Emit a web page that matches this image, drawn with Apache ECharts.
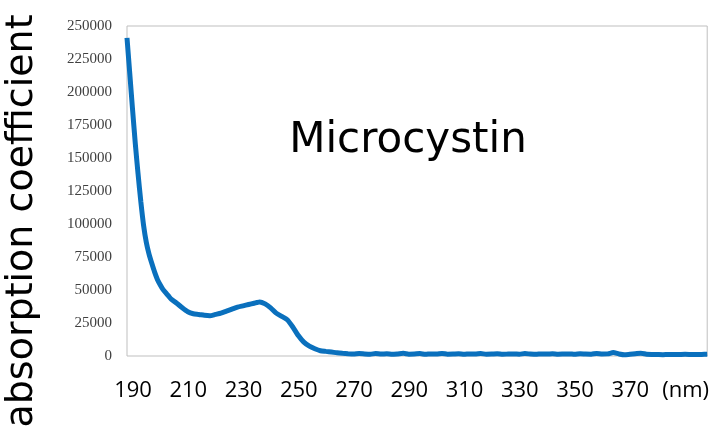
<!DOCTYPE html>
<html>
<head>
<meta charset="utf-8">
<script src="https://cdn.jsdelivr.net/npm/echarts@6/dist/echarts.min.js"></script>
<style>
html,body{margin:0;padding:0;background:#fff;}
#main{width:712px;height:433px;}
</style>
</head>
<body>
<div id="main"></div>
<script>
// wavelength (nm) and absorption coefficient
var wavelength = [190,191,192,193,194,195,196,197,198,199,200,201,202,203,204,205,206,208,210,212,214,216,218,220,222,224,226,228,230,232,234,236,237,238,240,242,244,246,248,250,252,254,256,258,260,262,264,266,268,270,
  272,274,276,278,280,282,284,286,288,290,292,294,296,298,300,302,304,306,308,310,312,314,316,318,320,322,324,326,328,330,332,334,336,338,340,342,344,346,348,350,352,354,356,358,360,362,364,366,368,370,372,374,376,378,380,382,384,386,388,390,392,394,396,398,400];
var absorption = [241000,214000,187000,161000,138000,117000,99000,86000,77000,70000,63500,58000,54000,50500,48000,45500,43000,40000,36500,33500,32000,31500,30800,30500,31500,32500,34000,35500,37000,38000,39000,40000,40500,41000,39500,36500,32500,30000,27500,22000,15500,10500,7500,5500,4000,3500,3000,2400,2000,1700,
  1500,1900,1600,1400,1800,1500,1700,1300,1600,2000,1400,1500,1800,1300,1600,1500,1900,1400,1500,1700,1300,1600,1500,1800,1400,1500,1700,1300,1500,1600,1400,1800,1500,1300,1600,1500,1700,1400,1500,1600,1300,1700,1500,1400,1900,1500,1600,2600,1600,900,1300,1700,2100,1400,1200,1100,1000,1200,1100,1200,1300,1200,1100,1200,1400];
var yTicks = [0,25000,50000,75000,100000,125000,150000,175000,200000,225000,250000];
var xLabels = ['190','210','230','250','270','290','310','330','350','370','(nm)'];

var points = wavelength.map(function(w, i){ return [w, absorption[i]]; });

var myChart = echarts.init(document.getElementById('main'));
var option = {
    animation: false,
    grid: {
        left: 127, right: 4, top: 26, bottom: 77,
        show: true, borderColor: '#bfbfbf', borderWidth: 1
    },
    xAxis: {
        type: 'value', min: 190, max: 400, interval: 20,
        axisLine: {show: false}, axisTick: {show: false}, splitLine: {show: false},
        axisLabel: {
            showMaxLabel: false,
            margin: 24, padding: [0,0,0,12],
            fontFamily: 'Open Sans', fontSize: 22, color: '#000',
            formatter: function(v){ return xLabels[Math.round((v - 190) / 20)] || ''; }
        }
    },
    yAxis: {
        type: 'value', min: yTicks[0], max: yTicks[yTicks.length-1], interval: 25000,
        axisLine: {show: false}, axisTick: {show: false}, splitLine: {show: false},
        axisLabel: {margin: 15, fontFamily: 'Liberation Serif', fontSize: 15, color: '#404040',
            formatter: function(v){ return String(v); }}
    },
    series: [{
        type: 'line', data: points, symbol: 'none', smooth: 0.2,
        lineStyle: {color: '#0a70bd', width: 5}
    }],
    graphic: [
        {
            type: 'text', x: 22, y: 221, rotation: Math.PI / 2,
            style: {text: 'absorption coefficient', fontFamily: 'DejaVu Sans', fontSize: 38,
                fill: '#000', align: 'center', verticalAlign: 'middle'}
        },
        {
            type: 'text', x: 408, y: 141,
            style: {text: 'Microcystin', fontFamily: 'DejaVu Sans', fontSize: 42,
                fill: '#000', align: 'center', verticalAlign: 'middle'}
        }
    ]
};
myChart.setOption(option);
</script>
</body>
</html>
